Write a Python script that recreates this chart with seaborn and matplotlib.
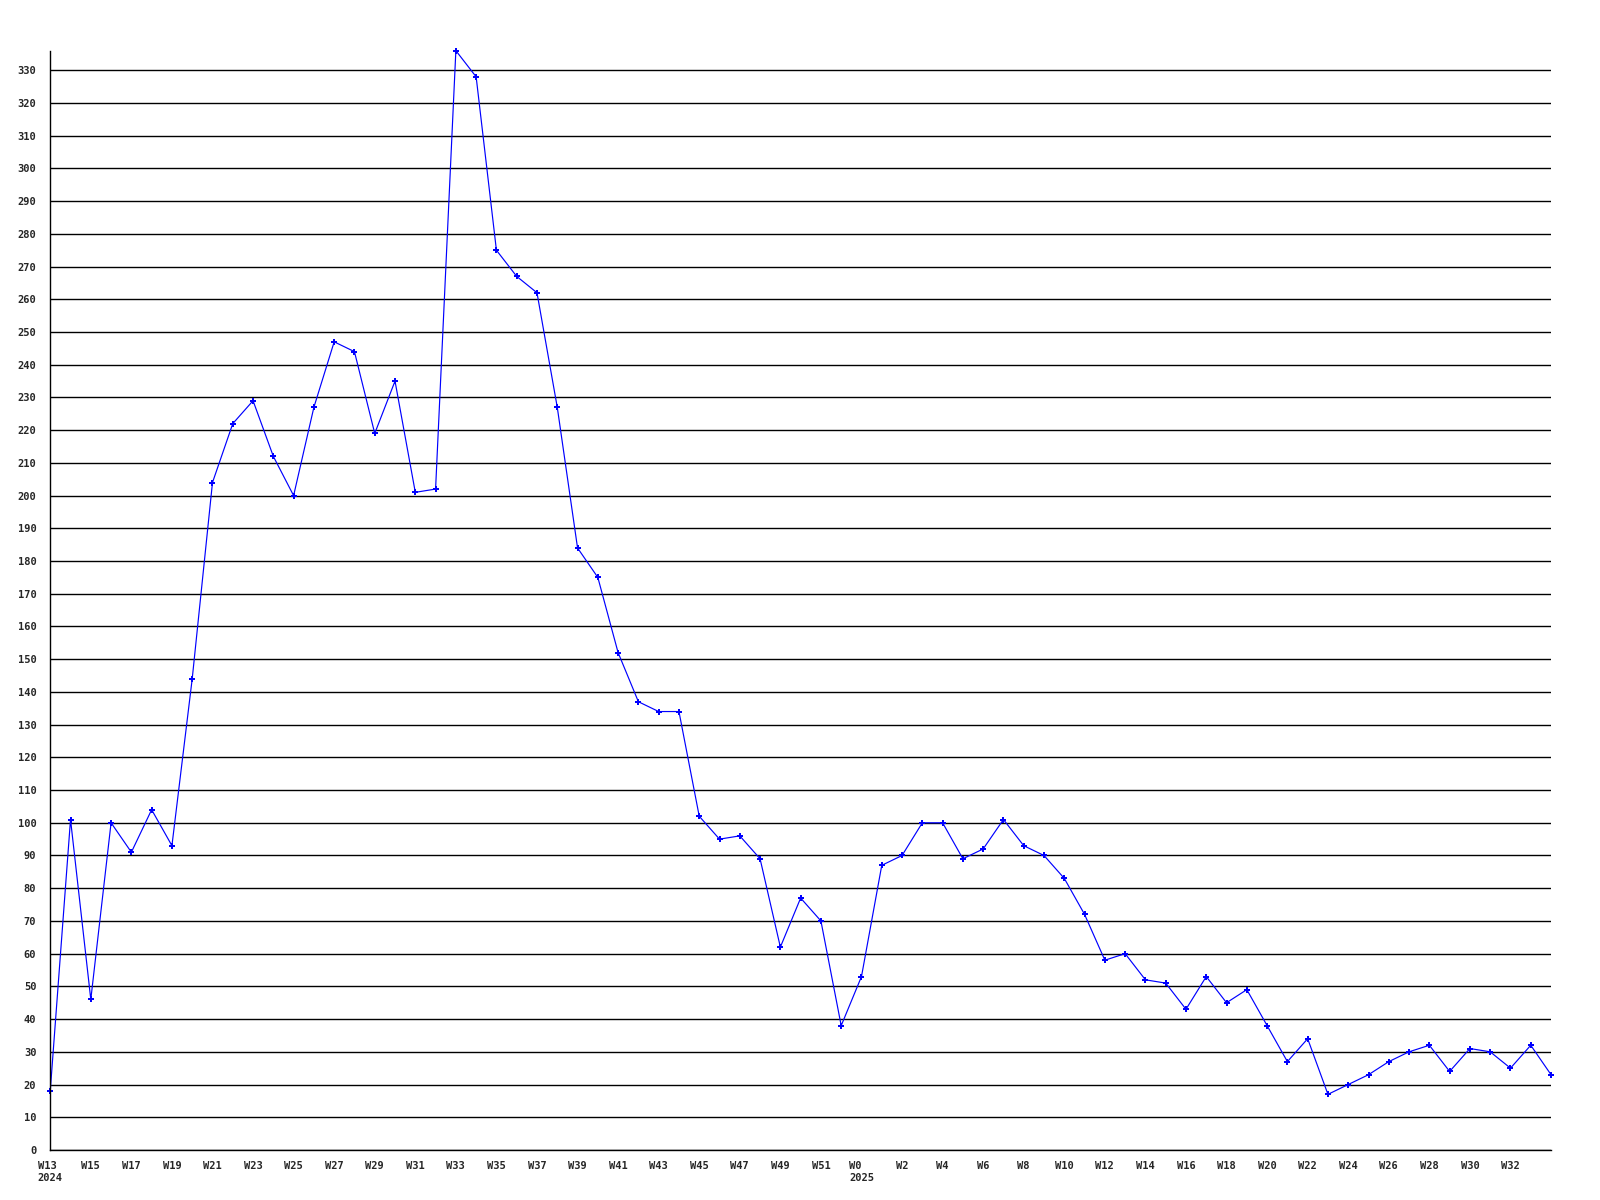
import numpy as np
import pandas as pd
import matplotlib
matplotlib.use("Agg")
import matplotlib.pyplot as plt
import seaborn as sns

# weekly counts, W13 2024 .. W34 2025
weeks_2024 = list(range(13, 53))
weeks_2025 = list(range(0, 35))
counts_2024 = [18, 101, 46, 100, 91, 104, 93, 144, 204, 222,
               229, 212, 200, 227, 247, 244, 219, 235, 201, 202,
               336, 328, 275, 267, 262, 227, 184, 175, 152, 137,
               134, 134, 102, 95, 96, 89, 62, 77, 70, 38]
counts_2025 = [53, 87, 90, 100, 100, 89, 92, 101, 93, 90,
               83, 72, 58, 60, 52, 51, 43, 53, 45, 49,
               38, 27, 34, 17, 20, 23, 27, 30, 32, 24,
               31, 30, 25, 32, 23]

labels = [f"W{w}" for w in weeks_2024] + [f"W{w}" for w in weeks_2025]
counts = counts_2024 + counts_2025
df = pd.DataFrame({"idx": np.arange(len(counts)), "count": counts, "week": labels})

sns.set_style("white")
plt.rcParams["font.family"] = ["DejaVu Sans Mono", "DejaVu Sans"]
plt.rcParams["font.weight"] = "bold"

fig = plt.figure(figsize=(16, 12), dpi=100)
ax = fig.add_axes([0.0314, 0.0417, 0.9380, 0.9161])

ax.set_yticks(range(0, 331, 10))
ax.yaxis.grid(True, color="black", linewidth=1.0)
ax.set_axisbelow(True)

sns.lineplot(data=df, x="idx", y="count", ax=ax, color="#0000ff",
             linewidth=0.85, marker="P", markersize=4.5,
             markeredgewidth=0, markerfacecolor="#0000ff")
# keep the peak marker visible at the top edge
for line in ax.lines:
    line.set_clip_on(False)

ax.set_xlim(0, len(counts) - 1)
ax.set_ylim(0, max(counts))

# labels every second week; the last one drawn is W32
ticks = list(range(0, len(counts) - 2, 2))
tick_labels = []
for i in ticks:
    lab = labels[i]
    if i == 0:
        lab += "\n2024"
    elif i == len(weeks_2024):
        lab += "\n2025"
    tick_labels.append(lab)
ax.set_xticks(ticks)
ax.set_xticklabels(tick_labels, multialignment="left")

ax.tick_params(axis="both", length=0, labelsize=7.5)
ax.tick_params(axis="x", pad=8)
ax.tick_params(axis="y", pad=10)
for t in ax.get_xticklabels() + ax.get_yticklabels():
    t.set_fontweight("bold")

ax.set_xlabel("")
ax.set_ylabel("")
for side in ["top", "right"]:
    ax.spines[side].set_visible(False)
for side in ["left", "bottom"]:
    ax.spines[side].set_color("black")
    ax.spines[side].set_linewidth(1.0)

fig.savefig("out.png", dpi=100)
